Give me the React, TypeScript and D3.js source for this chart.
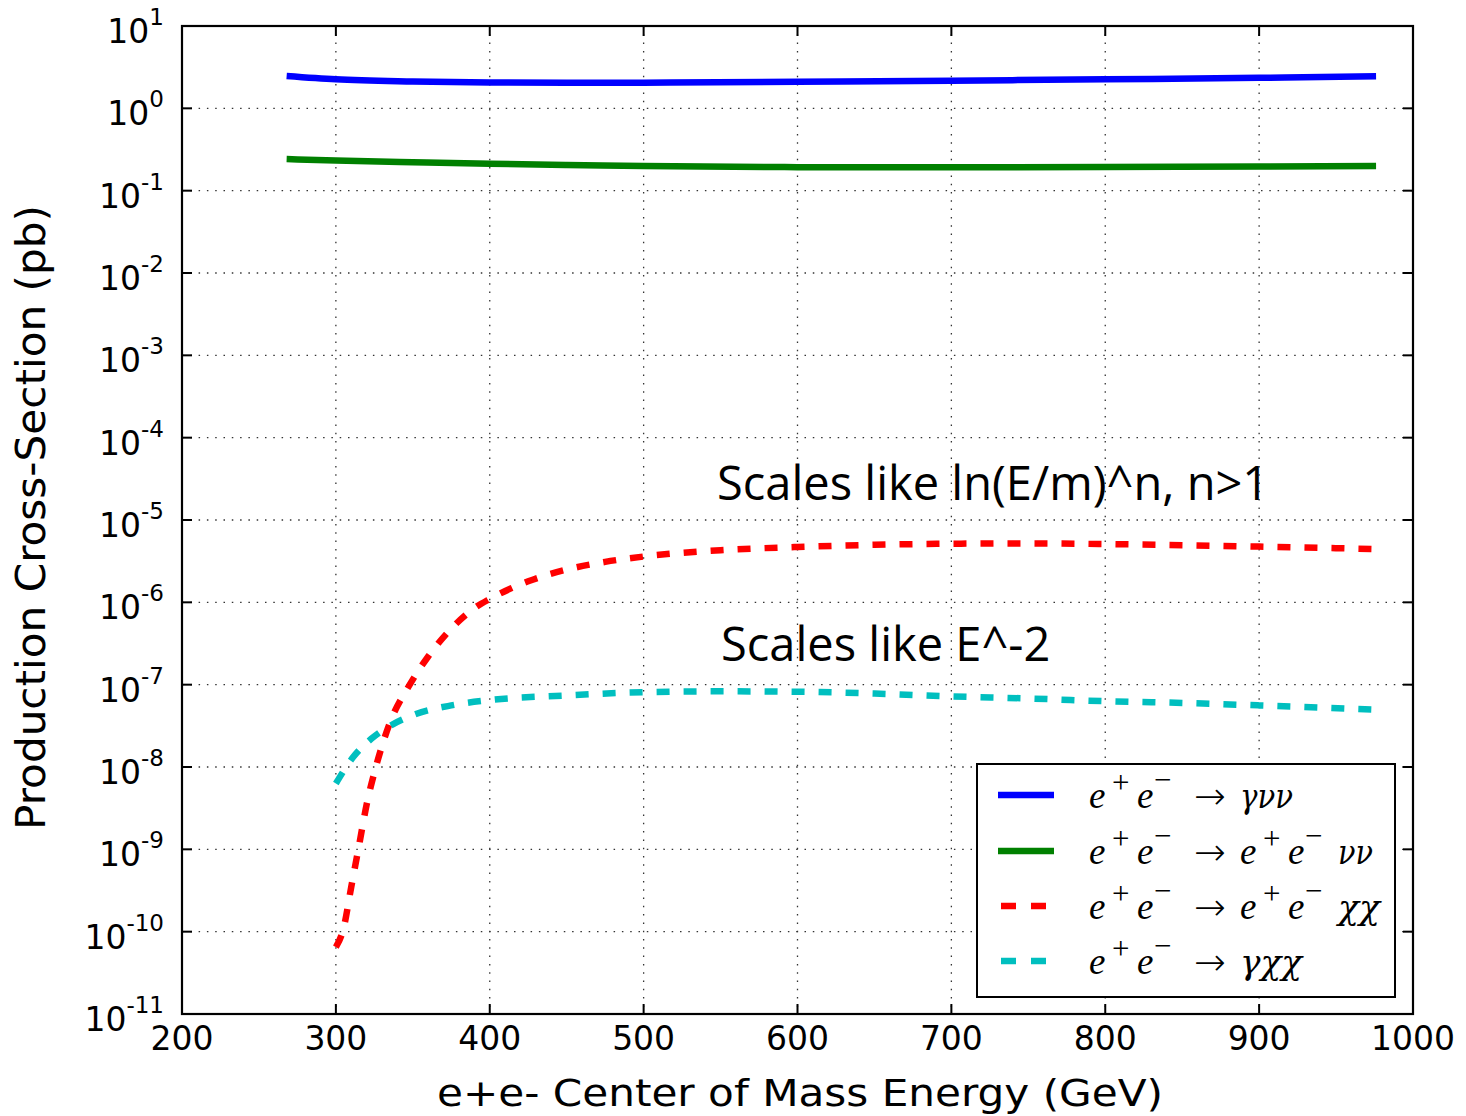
import React from "react";
import * as d3 from "d3";

const xTicks = [200, 300, 400, 500, 600, 700, 800, 900, 1000];
const yExponents = [1, 0, -1, -2, -3, -4, -5, -6, -7, -8, -9, -10, -11];

const energySolid = [268, 300, 350, 400, 450, 500, 600, 700, 800, 900, 976];
const sigmaGammaNuNu = [2.47, 2.25, 2.12, 2.06, 2.04, 2.05, 2.1, 2.17, 2.25, 2.35, 2.45];
const sigmaEENuNu = [0.242, 0.232, 0.221, 0.212, 0.205, 0.199, 0.193, 0.192, 0.194, 0.197, 0.199];

const energyEEChiChi = [300, 305, 310, 315, 320, 326, 335, 348, 360, 375, 390, 400, 425, 450, 475, 500, 550, 600, 650, 700, 750, 800, 850, 900, 950, 973];
const sigmaEEChiChi = [6.5e-11, 1.1e-10, 3.5e-10, 1.1e-9, 3.5e-9, 1e-8, 3.4e-8, 1e-7, 2.2e-7, 4.8e-7, 8.5e-7, 1.1e-6, 1.8e-6, 2.5e-6, 3.1e-6, 3.6e-6, 4.3e-6, 4.7e-6, 5e-6, 5.15e-6, 5.2e-6, 5.1e-6, 4.95e-6, 4.75e-6, 4.55e-6, 4.45e-6];

const energyGammaChiChi = [300, 311, 323, 337, 352, 375, 400, 450, 500, 550, 600, 650, 700, 750, 800, 850, 900, 973];
const sigmaGammaChiChi = [6.3e-9, 1.3e-8, 2.2e-8, 3.3e-8, 4.4e-8, 5.6e-8, 6.5e-8, 7.4e-8, 8.1e-8, 8.3e-8, 8.2e-8, 7.8e-8, 7.2e-8, 6.8e-8, 6.3e-8, 6.0e-8, 5.6e-8, 5.0e-8];

const annotations = ["Scales like ln(E/m)^n, n>1", "Scales like E^-2"];
const xLabel = "e+e- Center of Mass Energy (GeV)";
const yLabel = "Production Cross-Section (pb)";

const W = 1466, H = 1116;
const L = 182, R = 1413, T = 26, B = 1014;

export default function App() {
  const x = d3.scaleLinear().domain([200, 1000]).range([L, R]);
  const y = d3.scaleLog().domain([1e-11, 10]).range([B, T]);
  const line = d3
    .line<[number, number]>()
    .x((d) => x(d[0]))
    .y((d) => y(d[1]))
    .curve(d3.curveMonotoneX);
  const zip = (a: number[], b: number[]) => a.map((v, i) => [v, b[i]] as [number, number]);

  const series = [
    { e: energySolid, s: sigmaGammaNuNu, color: "#0000ff", dash: null },
    { e: energySolid, s: sigmaEENuNu, color: "#008000", dash: null },
    { e: energyEEChiChi, s: sigmaEEChiChi, color: "#ff0000", dash: "13 14" },
    { e: energyGammaChiChi, s: sigmaGammaChiChi, color: "#00bfbf", dash: "13 14" },
  ];

  const tickFont = "DejaVu Sans, sans-serif";
  const mathFont = "Liberation Serif, DejaVu Serif, serif";
  const greekFont = "DejaVu Serif, Liberation Serif, serif";

  const legendX = 977, legendY = 764, legendW = 418, legendH = 233;
  const rowY = [795, 851, 906, 961];

  const it = (s: string, xx: number, yy: number) => (
    <text x={xx} y={yy} fontFamily={mathFont} fontStyle="italic" fontSize={37}>{s}</text>
  );
  const greek = (s: string, xx: number, yy: number, len: number) => (
    <text x={xx} y={yy} fontFamily={greekFont} fontStyle="italic" fontSize={33} textLength={len} lengthAdjust="spacingAndGlyphs">{s}</text>
  );
  const ee = (x0: number, yy: number) => (
    <g>
      {it("e", x0, yy)}
      <text x={x0 + 23} y={yy - 15} fontFamily={mathFont} fontSize={31}>+</text>
      {it("e", x0 + 48, yy)}
      <text x={x0 + 65} y={yy - 18} fontFamily={mathFont} fontSize={31}>{"\u2212"}</text>
    </g>
  );
  const arrow = (yy: number) => (
    <text x={1194} y={yy + 1} fontFamily="DejaVu Sans, sans-serif" fontSize={38} fontWeight={300}>{"\u2192"}</text>
  );

  return (
    <div style={{ position: "fixed", left: 0, top: 0 }}>
      <svg width={W} height={H} style={{ display: "block", background: "#fff" }}>
        {/* grid */}
        {xTicks.slice(1, -1).map((t) => (
          <line key={"gx" + t} x1={x(t)} x2={x(t)} y1={T} y2={B} stroke="#333" strokeWidth={1.3} strokeDasharray="1.5 6.8" />
        ))}
        {yExponents.slice(1, -1).map((e) => (
          <line key={"gy" + e} x1={L} x2={R} y1={y(Math.pow(10, e))} y2={y(Math.pow(10, e))} stroke="#333" strokeWidth={1.3} strokeDasharray="1.5 6.8" />
        ))}

        {/* series */}
        {series.map((s, i) => (
          <path
            key={i}
            d={line(zip(s.e, s.s)) || ""}
            fill="none"
            stroke={s.color}
            strokeWidth={6.5}
            strokeDasharray={s.dash || undefined}
          />
        ))}

        {/* ticks */}
        {xTicks.map((t) => (
          <g key={"tx" + t}>
            <line x1={x(t)} x2={x(t)} y1={B} y2={B - 10} stroke="#000" strokeWidth={2} />
            <line x1={x(t)} x2={x(t)} y1={T} y2={T + 10} stroke="#000" strokeWidth={2} />
            <text x={x(t)} y={1050} textAnchor="middle" fontFamily={tickFont} fontSize={33} fill="#000">{t}</text>
          </g>
        ))}
        {yExponents.map((e) => {
          const yy = y(Math.pow(10, e));
          return (
            <g key={"ty" + e}>
              <line x1={L} x2={L + 10} y1={yy} y2={yy} stroke="#000" strokeWidth={2} />
              <line x1={R} x2={R - 10} y1={yy} y2={yy} stroke="#000" strokeWidth={2} />
              <text x={164} y={yy + 17} textAnchor="end" fontFamily={tickFont} fontSize={33} fill="#000">
                10<tspan dy={-18} fontSize={23}>{e}</tspan>
              </text>
            </g>
          );
        })}

        {/* frame */}
        <rect x={L} y={T} width={R - L} height={B - T} fill="none" stroke="#000" strokeWidth={2.2} />

        {/* axis labels */}
        <text x={437} y={1106} fontFamily={tickFont} fontSize={38} fill="#000" textLength={726} lengthAdjust="spacingAndGlyphs">
          {xLabel}
        </text>
        <text
          transform={`translate(45, 830) rotate(-90)`}
          fontFamily={tickFont}
          fontSize={40}
          fill="#000"
          textLength={625}
          lengthAdjust="spacingAndGlyphs"
        >
          {yLabel}
        </text>

        {/* annotations */}
        <text x={717} y={500} fontFamily="Open Sans, Noto Sans, sans-serif" fontSize={47} fill="#000">{annotations[0]}</text>
        <text x={721} y={661} fontFamily="Open Sans, Noto Sans, sans-serif" fontSize={47} fill="#000">{annotations[1]}</text>

        {/* legend */}
        <rect x={legendX} y={legendY} width={legendW} height={legendH} fill="#fff" stroke="#000" strokeWidth={2} />
        {series.map((s, i) => (
          <line
            key={"ll" + i}
            x1={s.dash ? 1001 : 998}
            x2={s.dash ? 1046 : 1054}
            y1={rowY[i]}
            y2={rowY[i]}
            stroke={s.color}
            strokeWidth={6.5}
            strokeDasharray={s.dash ? "15 15" : undefined}
          />
        ))}
        {rowY.map((ry, i) => (
          <g key={"lt" + i}>
            {ee(1089, ry + 13)}
            {arrow(ry + 13)}
            {i === 0 && greek("\u03b3\u03bd\u03bd", 1240, ry + 13, 53)}
            {i === 1 && (
              <g>
                {ee(1240, ry + 13)}
                {greek("\u03bd\u03bd", 1338, ry + 13, 35)}
              </g>
            )}
            {i === 2 && (
              <g>
                {ee(1240, ry + 13)}
                {greek("\u03c7\u03c7", 1338, ry + 13, 42)}
              </g>
            )}
            {i === 3 && greek("\u03b3\u03c7\u03c7", 1240, ry + 13, 62)}
          </g>
        ))}
      </svg>
    </div>
  );
}
